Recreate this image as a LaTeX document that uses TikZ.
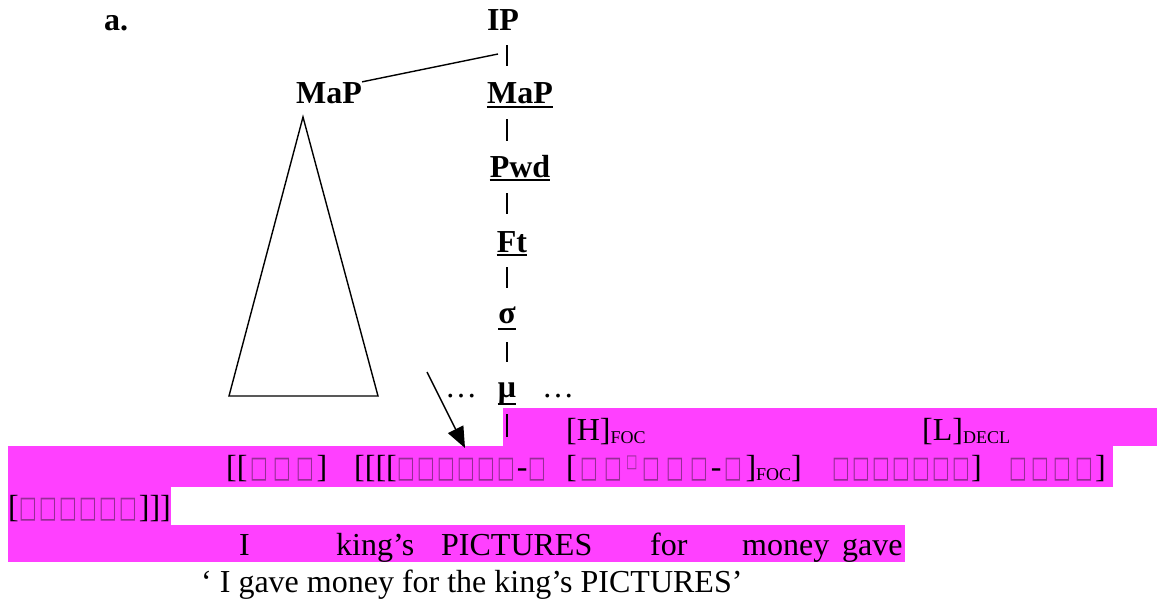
\documentclass[tikz,border=0pt]{standalone}
\usepackage{fontspec}
\setmainfont{Liberation Serif}
\newfontfamily\bxfont{DejaVu Sans}
\usetikzlibrary{arrows.meta}
\definecolor{mag}{RGB}{255,64,255}
\definecolor{boxc}{RGB}{150,45,150}
\newlength\gbw
\newcommand\gb{\makebox[\gbw]{\textcolor{boxc}{\bxfont\fontsize{25}{25}\selectfont\scalebox{0.75}[1.2]{□}}}}
\newcommand\sgb{\raisebox{10pt}{\makebox[14pt]{\textcolor{boxc}{\bxfont\fontsize{15}{15}\selectfont\scalebox{0.8}[1.2]{□}}}}}
\newcommand\sub[1]{\raisebox{-3pt}{\fontsize{18}{18}\selectfont #1}}
\begin{document}
\begin{tikzpicture}[x=1pt,y=-1pt,
  every node/.style={inner sep=0pt,font=\fontsize{32}{38}\selectfont},
  lbl/.style={font=\fontsize{32}{38}\selectfont\bfseries,anchor=base},
  row/.style={anchor=base west},
  bar/.style={line width=2.5pt},
  uline/.style={line width=2.2pt},
  conn/.style={line width=1.4pt}]
\useasboundingbox (0,0) rectangle (1157,598);
% highlight bands
\fill[mag] (503,408) rectangle (1157,446);
\fill[mag] (8,446) rectangle (1113,487);
\fill[mag] (8,487) rectangle (171,525);
\fill[mag] (8,525) rectangle (905,562);
% tree labels
\node[lbl,anchor=base west] (a) at (104,30) {a.};
\node[lbl] (IP) at (503,30) {IP};
\node[lbl] (MaPl) at (329,103) {MaP};
\node[lbl] (MaPr) at (520,103) {MaP};
\node[lbl] (Pwd) at (520,177) {Pwd};
\node[lbl] (Ft) at (512,252) {Ft};
\node[lbl] (sig) at (507,323) {σ};
\node[lbl] (mu) at (507,397) {μ};
\node[anchor=base] (d1) at (461,397) {…};
\node[anchor=base] (d2) at (558,397) {…};
\foreach \n/\d in {MaPr/4,Pwd/3,Ft/3,sig/6,mu/7}
  \draw[uline] ([yshift=-\d]\n.base west) -- ([yshift=-\d]\n.base east);
% vertical bars
\foreach \t/\b [count=\i] in {45/66,119/141,193/214,267/288,342/362,414/437}{
  \coordinate (bt\i) at (507,\t);
  \coordinate (bb\i) at (507,\b);
  \draw[bar] (bt\i) -- (bb\i);
}
% connector to IP
\coordinate (j1) at (498,54);
\draw[conn] (MaPl.north east) -- (j1);
% triangle
\draw[conn,line join=miter] (303,117) -- (229,396) -- (378,396) -- cycle;
% arrow
\coordinate (as) at (427,372);
\coordinate (ae) at (465,448);
\draw[conn,-{Triangle[length=21pt,width=17pt]}] (as) -- (ae);
% row 1
\node[row] (H) at (566,440) {[H]\sub{FOC}};
\node[row] (L) at (922,440) {[L]\sub{DECL}};
% row 2
\node[row] (s1) at (226,477) {\setlength\gbw{23pt}[[\gb\gb\gb]};
\node[row] (s2) at (354,477) {\setlength\gbw{20pt}[[[[\gb\gb\gb\gb\gb\gb-\gb};
\node[row] (s3) at (566,477) {\setlength\gbw{24pt}[\gb\gb\sgb\gb\gb\gb-\gb]\sub{FOC}]};
\node[row] (s4) at (831,477) {\setlength\gbw{20pt}\gb\gb\gb\gb\gb\gb\gb]};
\node[row] (s5) at (1007,477) {\setlength\gbw{22pt}\gb\gb\gb\gb]};
% row 3
\node[row] (t1) at (8,517) {\setlength\gbw{20pt}[\gb\gb\gb\gb\gb\gb]]]};
% row 4
\node[row] (wI) at (239,555) {I};
\node[row] (wk) at (336,555) {king’s};
\node[row] (wp) at (441,555) {PICTURES};
\node[row] (wf) at (650,555) {for};
\node[row] (wm) at (742,555) {money};
\node[row] (wg) at (842,555) {gave};
% gloss
\node[row] (gl) at (201,592) {‘ I gave money for the king’s PICTURES’};
\end{tikzpicture}
\end{document}
